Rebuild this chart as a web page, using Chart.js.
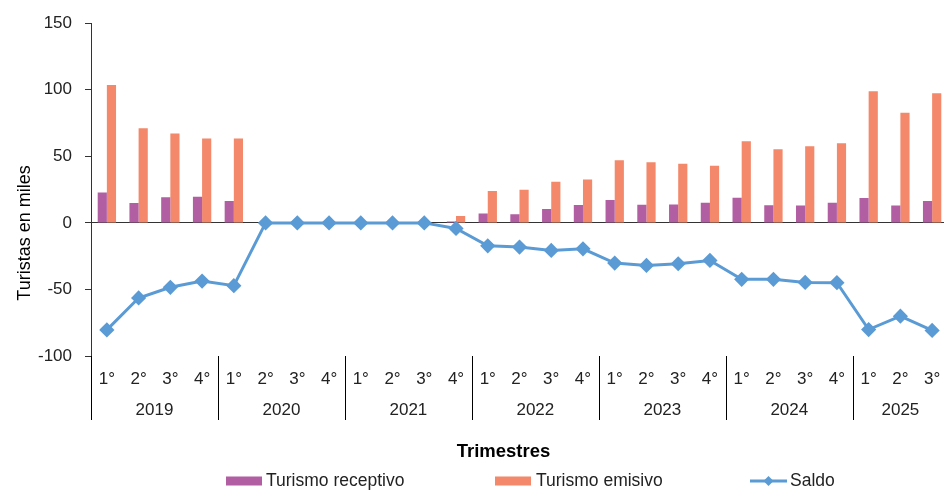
<!DOCTYPE html>
<html>
<head>
<meta charset="utf-8">
<script src="https://cdn.jsdelivr.net/npm/chart.js@4/dist/chart.umd.min.js"></script>
<style>
  html, body { margin: 0; padding: 0; background: #ffffff; overflow: hidden; }
  #wrap { position: relative; width: 948px; height: 492px; }
</style>
</head>
<body>
<div id="wrap"><canvas id="c"></canvas></div>
<script>
// ---- data ----
const quarters = ['1°','2°','3°','4°','1°','2°','3°','4°','1°','2°','3°','4°','1°','2°','3°','4°','1°','2°','3°','4°','1°','2°','3°','4°','1°','2°','3°'];
const years = ['2019','2020','2021','2022','2023','2024','2025'];
const quartersPerYear = [4,4,4,4,4,4,3];
const receptivo = [22.9,15.0,19.2,19.7,16.4,0,0,0,0,0,0,1.0,7.0,6.5,10.5,13.5,17.2,13.7,13.9,15.2,18.9,13.2,13.0,15.2,18.7,13.0,16.4];
const emisivo = [103.5,71.1,67.1,63.3,63.3,0,0,0,0,0,0,5.2,23.9,24.9,30.9,32.6,47.1,45.6,44.4,42.9,61.4,55.4,57.6,59.9,98.8,82.8,97.3];
const saldo = [-80.4,-56.4,-48.4,-43.7,-47.2,0,0,0,0,0,0,-4.2,-17.2,-18.2,-20.7,-19.5,-30.2,-32.0,-30.7,-28.2,-42.4,-42.4,-44.7,-44.9,-80.1,-70.1,-80.8];
const yTicks = [-100,-50,0,50,100,150];
const seriesNames = ['Turismo receptivo','Turismo emisivo','Saldo'];
const xTitle = 'Trimestres';
const yTitle = 'Turistas en miles';

const COL_REC = '#B15EA2';
const COL_EMI = '#F3886A';
const COL_SAL = '#5B9BD5';
const TXT = '#222222';
const FONT = '"Liberation Sans", Arial, Helvetica, sans-serif';

const extras = {
  id: 'extras',
  afterDraw(chart) {
    const ctx = chart.ctx;
    const xs = chart.scales.x;
    const ca = chart.chartArea;
    const n = quarters.length;
    const w = (xs.getPixelForTick(1) - xs.getPixelForTick(0));
    ctx.save();
    // year separators
    ctx.strokeStyle = '#000000';
    ctx.lineWidth = 1;
    let idx = 0;
    const sepBottom = ca.bottom + 64;
    for (let k = 0; k < years.length; k++) {
      const x = Math.round(xs.getPixelForTick(idx) - w / 2) + 0.5;
      ctx.beginPath();
      ctx.moveTo(x, ca.bottom);
      ctx.lineTo(x, sepBottom);
      ctx.stroke();
      // year label
      const first = xs.getPixelForTick(idx);
      const last = xs.getPixelForTick(Math.min(idx + quartersPerYear[k] - 1, n - 1));
      ctx.fillStyle = TXT;
      ctx.font = '17px ' + FONT;
      ctx.textAlign = 'center';
      ctx.textBaseline = 'middle';
      ctx.fillText(years[k], (first + last) / 2, ca.bottom + 54);
      idx += quartersPerYear[k];
    }
    // x title
    ctx.font = 'bold 18.5px ' + FONT;
    ctx.textAlign = 'center';
    ctx.textBaseline = 'middle';
    ctx.fillStyle = '#000000';
    ctx.fillText(xTitle, 503.5, 452);
    // y title
    ctx.save();
    ctx.translate(25, 233);
    ctx.rotate(-Math.PI / 2);
    ctx.font = '18px ' + FONT;
    ctx.fillStyle = '#000000';
    ctx.fillText(yTitle, 0, 0);
    ctx.restore();
    // legend
    const ly = 481;
    ctx.font = '17.5px ' + FONT;
    ctx.textAlign = 'left';
    ctx.textBaseline = 'middle';
    ctx.fillStyle = COL_REC;
    ctx.fillRect(226, 476.5, 36, 9);
    ctx.fillStyle = TXT;
    ctx.fillText(seriesNames[0], 266, ly);
    ctx.fillStyle = COL_EMI;
    ctx.fillRect(495, 476.5, 36, 9);
    ctx.fillStyle = TXT;
    ctx.fillText(seriesNames[1], 536, ly);
    ctx.strokeStyle = COL_SAL;
    ctx.lineWidth = 3;
    ctx.beginPath();
    ctx.moveTo(750, ly);
    ctx.lineTo(787, ly);
    ctx.stroke();
    ctx.fillStyle = COL_SAL;
    ctx.beginPath();
    ctx.moveTo(768.5, ly - 5);
    ctx.lineTo(773.5, ly);
    ctx.lineTo(768.5, ly + 5);
    ctx.lineTo(763.5, ly);
    ctx.closePath();
    ctx.fill();
    ctx.fillStyle = TXT;
    ctx.fillText(seriesNames[2], 790, ly);
    ctx.restore();
  }
};

new Chart(document.getElementById('c'), {
  data: {
    labels: quarters,
    datasets: [
      { type: 'line', label: seriesNames[2], data: saldo, borderColor: COL_SAL, backgroundColor: COL_SAL,
        borderWidth: 3, pointStyle: 'rectRot', pointRadius: 5.5, pointHoverRadius: 5.5, tension: 0, order: 0, clip: false },
      { type: 'bar', label: seriesNames[0], data: receptivo, backgroundColor: COL_REC,
        categoryPercentage: 0.578, barPercentage: 1.0, order: 1 },
      { type: 'bar', label: seriesNames[1], data: emisivo, backgroundColor: COL_EMI,
        categoryPercentage: 0.578, barPercentage: 1.0, order: 1 }
    ]
  },
  options: {
    responsive: true,
    maintainAspectRatio: false,
    animation: false,
    events: [],
    layout: { autoPadding: false, padding: { top: 22, left: 0, right: 0, bottom: 0 } },
    plugins: { legend: { display: false }, tooltip: { enabled: false } },
    scales: {
      x: {
        type: 'category',
        grid: { display: false, drawTicks: false },
        border: { display: false },
        ticks: { color: TXT, font: { family: FONT, size: 17 }, padding: 13, maxRotation: 0, autoSkip: false },
        afterFit(scale) { scale.height = 136; scale.paddingLeft = 0; scale.paddingRight = 0; }
      },
      y: {
        min: -100, max: 150,
        afterBuildTicks(scale) { scale.ticks = yTicks.map(v => ({ value: v })); },
        grid: {
          color: (c) => (c.tick && c.tick.value === 0) ? '#333333' : 'rgba(0,0,0,0)',
          tickColor: '#333333', tickLength: 6, lineWidth: 1, drawTicks: true
        },
        border: { display: true, color: '#333333', width: 1 },
        ticks: { color: TXT, font: { family: FONT, size: 17 }, padding: 13 },
        afterFit(scale) { scale.width = 91; }
      }
    }
  },
  plugins: [extras]
});
</script>
</body>
</html>
